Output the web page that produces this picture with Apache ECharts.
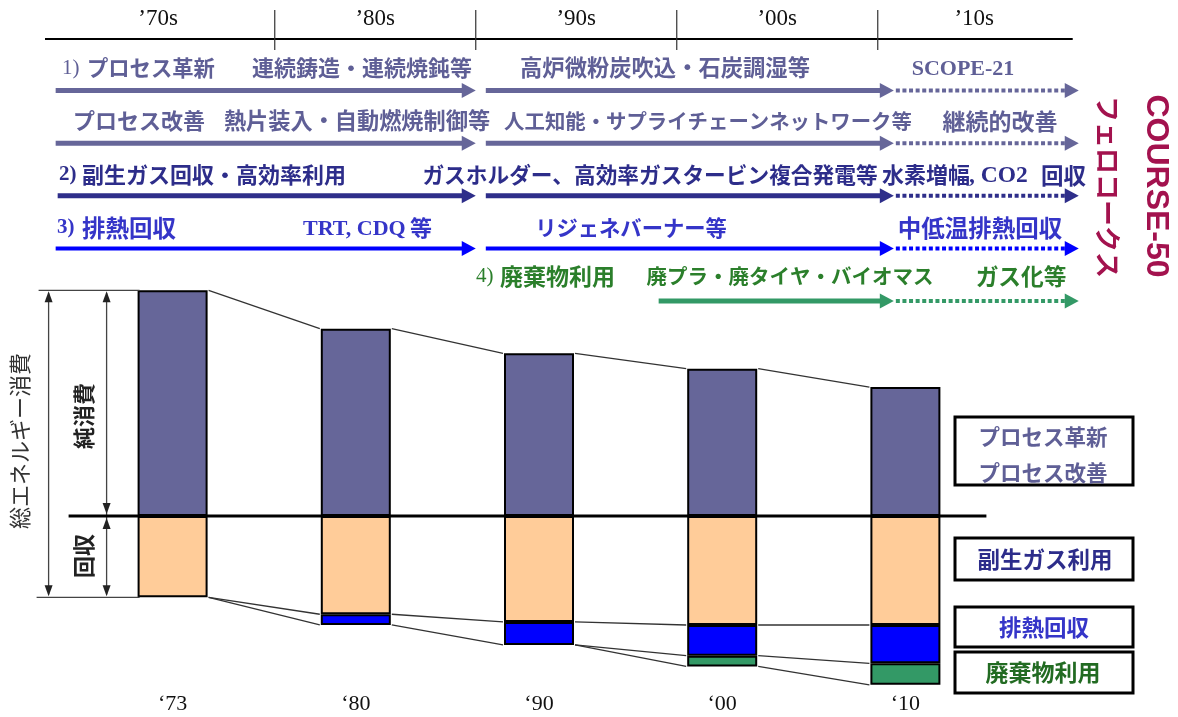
<!DOCTYPE html>
<html><head><meta charset="utf-8">
<script src="https://cdn.jsdelivr.net/npm/echarts@6/dist/echarts.min.js"></script>
<style>html,body{margin:0;padding:0;background:#fff}#c{width:1178px;height:717px}</style>
</head><body><div id="c"></div>
<script>
// ---------- data ----------
const years = ['\u201873', '\u201880', '\u201890', '\u201800', '\u201810'];
const netConsumption = [73.5, 61, 53, 48, 42];       // 純消費 (process innovation / improvement)
const byproductGas = [26.5, 32, 34.5, 35.5, 35.5];   // 副生ガス利用
const wasteHeat = [null, 3.5, 7.5, 10, 12.5];        // 排熱回収
const wasteUse = [null, null, null, 3.5, 7];         // 廃棄物利用

const decadeLabels = ['\u201970s', '\u201980s', '\u201990s', '\u201900s', '\u201910s'];
const decadeLabelYears = [1974.2, 1985, 1995, 2005, 2014.8];
const decadeBounds = [1980, 1990, 2000, 2010];
const timelineSpan = [1968.57, 2019.7];
// roadmap arrows: [row, startYear, endYear, dotted]
const roadmapSegments = [
  [1, 1969.1, 1990.0, 0], [1, 1990.5, 2010.8, 0], [1, 2010.9, 2020.0, 1],
  [2, 1969.1, 1990.0, 0], [2, 1990.5, 2010.8, 0], [2, 2010.9, 2020.0, 1],
  [3, 1969.2, 1990.0, 0], [3, 1990.5, 2010.8, 0], [3, 2010.9, 2020.0, 1],
  [4, 1969.1, 1990.0, 0], [4, 1990.5, 2010.8, 0], [4, 2010.9, 2020.0, 1],
  [5, 1999.1, 2010.8, 0], [5, 2010.9, 2020.0, 1]
];

// ---------- styles ----------
const C_PURPLE = '#666699', C_ORANGE = '#ffcc99', C_BLUE = '#0000ff', C_GREEN = '#339966';
const rowColors = ['#666699', '#666699', '#2e2e8a', '#0000ff', '#339966'];
const T_PURPLE = '#5f5f96', T_NAVY = '#2d2d8a', T_BLUE = '#3535c8', T_GREEN = '#2b7f2b';
const CJK = "'Noto Sans CJK JP', sans-serif";
const SERIF = "'Liberation Serif', 'DejaVu Serif', serif";

function txt(x, y, text, size, color, o) {
  o = o || {};
  const al = o.align || 'center';
  const el = {
    type: 'text', x: x, y: y, silent: true,
    style: {
      text: text, fill: color,
      font: (o.weight || 'bold') + ' ' + size + 'px ' + (o.family || CJK),
      textAlign: al, align: al, textVerticalAlign: 'middle', verticalAlign: 'middle'
    }
  };
  if (o.rotation != null) el.rotation = o.rotation;
  return el;
}
function box(x, y, w, h) {
  return { type: 'rect', silent: true, shape: { x: x, y: y, width: w, height: h },
    style: { fill: '#fff', stroke: '#000', lineWidth: 3 } };
}

const graphics = [
  // row 1
  txt(62, 68, '1)', 21, T_PURPLE, { align: 'left', weight: 'normal', family: SERIF }),
  txt(87, 68, 'プロセス革新', 21.3, T_PURPLE, { align: 'left' }),
  txt(362, 68, '連続鋳造・連続焼鈍等', 22, T_PURPLE),
  txt(665, 68, '高炉微粉炭吹込・石炭調湿等', 22.3, T_PURPLE),
  txt(963, 69, 'SCOPE-21', 22, T_PURPLE, { family: SERIF }),
  // row 2
  txt(139, 121, 'プロセス改善', 22, T_PURPLE),
  txt(357, 121, '熱片装入・自動燃焼制御等', 22.2, T_PURPLE),
  txt(708, 121, '人工知能・サプライチェーンネットワーク等', 20.4, T_PURPLE),
  txt(1000, 121, '継続的改善', 23, T_PURPLE),
  // row 3
  txt(59, 175, '2)', 21, T_NAVY, { align: 'left', family: SERIF }),
  txt(82, 175, '副生ガス回収・高効率利用', 22, T_NAVY, { align: 'left' }),
  txt(650, 175, 'ガスホルダー、高効率ガスタービン複合発電等', 21.7, T_NAVY),
  txt(882, 175, '水素増幅', 22, T_NAVY, { align: 'left' }),
  txt(969, 176, ', CO2', 23.5, T_NAVY, { align: 'left', family: SERIF }),
  txt(1041, 175, '回収', 22.5, T_NAVY, { align: 'left' }),
  // row 4
  txt(57, 228, '3)', 21, T_BLUE, { align: 'left', family: SERIF }),
  txt(82, 228, '排熱回収', 23.5, T_BLUE, { align: 'left' }),
  txt(303, 229, 'TRT, CDQ', 22, T_BLUE, { align: 'left', family: SERIF }),
  txt(410, 228, '等', 22, T_BLUE, { align: 'left' }),
  txt(631, 228, 'リジェネバーナー等', 21.3, T_BLUE),
  txt(980, 228, '中低温排熱回収', 23.5, T_BLUE),
  // row 5
  txt(476, 276, '4)', 21, T_GREEN, { align: 'left', weight: 'normal', family: SERIF }),
  txt(500, 276, '廃棄物利用', 23, T_GREEN, { align: 'left' }),
  txt(790, 276, '廃プラ・廃タイヤ・バイオマス', 20.5, T_GREEN),
  txt(1021, 276, 'ガス化等', 22.7, T_GREEN),
  // vertical titles
  txt(1156, 186, 'COURSE-50', 32, '#a3124e', { family: "'Liberation Sans', Arial, sans-serif", rotation: -Math.PI / 2 }),
  txt(1108, 187, 'フェロコークス', 26, '#a3124e', { rotation: -Math.PI / 2 }),
  // left labels
  txt(20, 441, '総エネルギー消費', 22, '#333', { weight: 'normal', rotation: Math.PI / 2 }),
  txt(84, 416, '純消費', 22, '#222', { rotation: Math.PI / 2 }),
  txt(84, 556, '回収', 22, '#222', { rotation: Math.PI / 2 }),
  // legend boxes
  box(955, 417, 178, 68),
  txt(1043, 437, 'プロセス革新', 21.5, T_PURPLE),
  txt(1043, 473, 'プロセス改善', 21.5, T_PURPLE),
  box(955, 538, 178, 42),
  txt(1045, 559, '副生ガス利用', 22.5, T_NAVY),
  box(955, 607, 178, 40),
  txt(1044, 627, '排熱回収', 22.5, T_BLUE),
  box(955, 652, 178, 41),
  txt(1043, 672, '廃棄物利用', 23, '#226b22')
];

// ---------- helpers ----------
function cumBottoms(i) {
  let c = 0; const out = [];
  [byproductGas, wasteHeat, wasteUse].forEach(function (arr) { c -= (arr[i] || 0); out.push(c); });
  return out;
}
const layers = [byproductGas, wasteHeat, wasteUse];
const HALF = 36;
const CONN = { stroke: '#333', lineWidth: 1.3 };

function renderConnectors(params, api) {
  const i = api.value(0);
  const ch = [];
  const a = api.coord([i, netConsumption[i]]), b = api.coord([i + 1, netConsumption[i + 1]]);
  ch.push({ type: 'line', shape: { x1: a[0] + HALF, y1: a[1], x2: b[0] - HALF, y2: b[1] }, style: CONN });
  const ca = cumBottoms(i), cb = cumBottoms(i + 1);
  for (let L = 0; L < 3; L++) {
    if (layers[L][i + 1] == null) continue;
    const p = api.coord([i, ca[L]]), q = api.coord([i + 1, cb[L]]);
    ch.push({ type: 'line', shape: { x1: p[0] + HALF, y1: p[1], x2: q[0] - HALF, y2: q[1] }, style: CONN });
  }
  return { type: 'group', children: ch };
}

function vArrowHead(x, y, dir) { // dir -1 up, +1 down (tip at y)
  return { type: 'polygon', shape: { points: [[x - 4, y - dir * 11], [x, y], [x + 4, y - dir * 11]] }, style: { fill: '#222' } };
}
function renderFrame(params, api) {
  const z = api.coord([0, 0]);
  const last = api.coord([years.length - 1, 0]);
  const yT = api.coord([0, netConsumption[0]])[1];
  const yB = api.coord([0, -byproductGas[0]])[1];
  const cx = z[0], y0 = z[1];
  const ls = { stroke: '#444', lineWidth: 1.3 };
  const ch = [
    { type: 'line', shape: { x1: cx - 104, y1: y0, x2: last[0] + 81, y2: y0 }, style: { stroke: '#000', lineWidth: 3 }, z2: 10 },
    { type: 'line', shape: { x1: cx - 134, y1: yT, x2: cx - 33, y2: yT }, style: ls },
    { type: 'line', shape: { x1: cx - 136, y1: yB, x2: cx - 33, y2: yB }, style: ls },
    { type: 'line', shape: { x1: cx - 124, y1: yT + 3, x2: cx - 124, y2: yB - 3 }, style: ls },
    vArrowHead(cx - 124, yT + 1, -1), vArrowHead(cx - 124, yB - 1, 1),
    { type: 'line', shape: { x1: cx - 66, y1: yT + 3, x2: cx - 66, y2: yB - 3 }, style: ls },
    vArrowHead(cx - 66, yT + 1, -1), vArrowHead(cx - 66, y0 - 2, 1),
    vArrowHead(cx - 66, y0 + 2, -1), vArrowHead(cx - 66, yB - 1, 1)
  ];
  return { type: 'group', children: ch };
}

function renderArrow(params, api) {
  const row = api.value(0), x0 = api.value(1), x1 = api.value(2), dotted = api.value(3);
  const p0 = api.coord([x0, row]), p1 = api.coord([x1, row]);
  const color = rowColors[row - 1];
  const head = 14, hw = 7.5;
  const lw = row === 4 ? 4 : 5;
  return { type: 'group', children: [
    { type: 'line', shape: { x1: p0[0], y1: p0[1], x2: p1[0] - head + 1, y2: p1[1] },
      style: { stroke: color, lineWidth: dotted ? 4 : lw, lineDash: dotted ? [4, 2.6] : null } },
    { type: 'polygon', shape: { points: [[p1[0] - head, p1[1] - hw], [p1[0], p1[1]], [p1[0] - head, p1[1] + hw]] },
      style: { fill: color } }
  ] };
}

function renderTimeline(params, api) {
  const a = api.coord([timelineSpan[0], 0]), b = api.coord([timelineSpan[1], 0]);
  const y = a[1] + 1;
  const ch = [{ type: 'line', shape: { x1: a[0], y1: y, x2: b[0], y2: y }, style: { stroke: '#000', lineWidth: 2 } }];
  decadeBounds.forEach(function (d) {
    const p = api.coord([d, 0]);
    ch.push({ type: 'line', shape: { x1: p[0], y1: y - 29, x2: p[0], y2: y + 11 }, style: { stroke: '#333', lineWidth: 1.2 } });
  });
  decadeLabels.forEach(function (t, k) {
    const p = api.coord([decadeLabelYears[k], 0]);
    ch.push({ type: 'text', x: p[0], y: y - 20, style: { text: t, fill: '#111', font: '23px ' + SERIF,
      textAlign: 'center', align: 'center', textVerticalAlign: 'middle', verticalAlign: 'middle' } });
  });
  return { type: 'group', children: ch };
}

// ---------- chart ----------
const chart = echarts.init(document.getElementById('c'), null, { renderer: 'canvas' });
const barStyle = function (c) { return { color: c, borderColor: '#000', borderWidth: 2 }; };
chart.setOption({
  animation: false,
  backgroundColor: '#fff',
  grid: [
    { left: 81, width: 916, top: 270.4, height: 414.45 },
    { left: 33.55, width: 1045.2, top: 38, height: 263 }
  ],
  xAxis: [
    { type: 'category', gridIndex: 0, data: years,
      axisLine: { show: false, onZero: false }, axisTick: { show: false },
      axisLabel: { fontFamily: SERIF, fontSize: 22, color: '#111', margin: 8 } },
    { type: 'value', gridIndex: 1, min: 1968, max: 2020, show: false }
  ],
  yAxis: [
    { type: 'value', gridIndex: 0, min: -55, max: 80, show: false },
    { type: 'value', gridIndex: 1, min: 0, max: 5, inverse: true, show: false }
  ],
  graphic: { elements: graphics },
  series: [
    { name: '純消費', type: 'bar', stack: 'total', barWidth: 70, data: netConsumption, itemStyle: barStyle(C_PURPLE), silent: true },
    { name: '副生ガス利用', type: 'bar', stack: 'total', barWidth: 70, data: byproductGas.map(v => v == null ? null : -v), itemStyle: barStyle(C_ORANGE), silent: true },
    { name: '排熱回収', type: 'bar', stack: 'total', barWidth: 70, data: wasteHeat.map(v => v == null ? null : -v), itemStyle: barStyle(C_BLUE), silent: true },
    { name: '廃棄物利用', type: 'bar', stack: 'total', barWidth: 70, data: wasteUse.map(v => v == null ? null : -v), itemStyle: barStyle(C_GREEN), silent: true },
    { type: 'custom', xAxisIndex: 0, yAxisIndex: 0, silent: true, z: 3,
      data: years.slice(0, years.length - 1).map((_, i) => [i, 0]), encode: { x: 0, y: 1 },
      renderItem: renderConnectors },
    { type: 'custom', xAxisIndex: 0, yAxisIndex: 0, silent: true, z: 4,
      data: [[0, 0]], encode: { x: 0, y: 1 }, renderItem: renderFrame },
    { type: 'custom', xAxisIndex: 1, yAxisIndex: 1, silent: true,
      data: roadmapSegments, encode: { x: [1, 2], y: 0 }, renderItem: renderArrow },
    { type: 'custom', xAxisIndex: 1, yAxisIndex: 1, silent: true,
      data: [[timelineSpan[0], 0]], encode: { x: 0, y: 1 }, renderItem: renderTimeline }
  ]
});
</script>
</body></html>
